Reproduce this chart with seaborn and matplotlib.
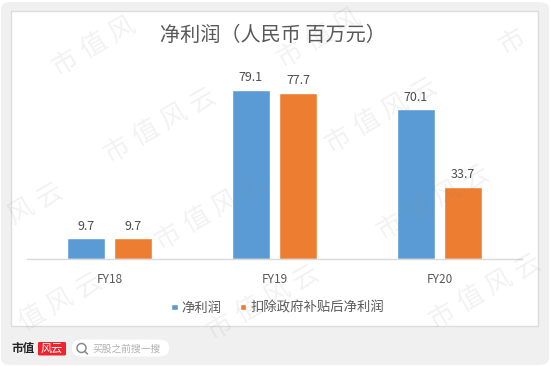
import matplotlib
matplotlib.use('Agg')
import matplotlib.pyplot as plt
from matplotlib.lines import Line2D
from matplotlib.patches import Ellipse, Rectangle, FancyBboxPatch
import pandas as pd
import seaborn as sns

years = ['FY18', 'FY19', 'FY20']
net_profit = [9.7, 79.1, 70.1]
net_profit_ex_subsidy = [9.7, 77.7, 33.7]
series_names = ['净利润', '扣除政府补贴后净利润']
colors = ['#5B9BD5', '#ED7D31']
title = '净利润（人民币 百万元）'
watermark = '市值风云'
search_hint = '买股之前搜一搜'

sns.set_theme(style='white')
plt.rcParams['font.family'] = ['Noto Sans CJK SC', 'DejaVu Sans']

W, H = 550, 366
TXT = '#595959'

df = pd.DataFrame({
    'year': years * 2,
    'series': [series_names[0]] * 3 + [series_names[1]] * 3,
    'value': net_profit + net_profit_ex_subsidy,
})

fig = plt.figure(figsize=(W / 100, H / 100), dpi=100, facecolor='white')


def fx(px):
    return px / W


def fy(py):
    return 1 - py / H


# page background and white chart panel
fig.patches.append(FancyBboxPatch((fx(1), fy(365)), fx(548), 363 / H, boxstyle='round,pad=0,rounding_size=0.018',
                                  transform=fig.transFigure, fc='#f0f0f0', ec='none', zorder=-5))
fig.patches.append(Rectangle((fx(11), fy(326)), fx(527), 315 / H, transform=fig.transFigure,
                             fc='white', ec='#dcdcdc', lw=1, zorder=-4))

ax = fig.add_axes([fx(27), fy(259), fx(495), 192.5 / H])
ax.patch.set_alpha(0)
sns.barplot(data=df, x='year', y='value', hue='series', hue_order=series_names, palette=colors,
            width=0.57, gap=0.21, saturation=1, ax=ax)
ax.set_ylim(0, 90)
ax.set_xlim(-0.5, 2.5)
ax.set_xlabel('')
ax.set_ylabel('')
ax.set_yticks([])
ax.tick_params(axis='x', length=0, pad=10, labelsize=8.5, labelcolor=TXT)
sns.despine(ax=ax, left=True)
ax.spines['bottom'].set_color('#d9d9d9')
ax.spines['bottom'].set_linewidth(1)

for cont in ax.containers:
    ax.bar_label(cont, fmt='%.1f', padding=4, fontsize=9, color='#4d4d4d')

leg = ax.legend(loc='center', bbox_to_anchor=(0.506, -0.253), ncol=2, frameon=False, fontsize=9.6,
                labelcolor=TXT, handlelength=0.5, handleheight=0.4, handletextpad=0.3, columnspacing=1.35)

fig.text(fx(273), fy(35), title, ha='center', va='center', fontsize=14.5, color=TXT)

# watermarks: position of the first character, the rest are stepped up and to the right
marks = [(65, 63), (117, 150), (168, 237), (-36, 245), (3, 335), (220, 327), (290, 55), (338, 140),
         (390, 227), (512, 42), (442, 316), (548, 135)]
for mx, my in marks:
    for i, ch in enumerate(watermark):
        cx, cy = mx + 28.5 * i, my - 16.5 * i
        if cx < 14 or cx > W - 14 or cy < 17 or cy > H - 14:
            continue
        fig.text(fx(cx), fy(cy), ch, ha='center', va='center', rotation=30, fontsize=19,
                 color='#808080', alpha=0.10, zorder=10)

# footer
fig.text(fx(23.5), fy(348), '市值', ha='center', va='center', fontsize=8.4, fontweight='bold', color='#222222')
fig.patches.append(FancyBboxPatch((fx(38), fy(355.5)), fx(28), 13.5 / H, boxstyle='round,pad=0,rounding_size=0.003',
                                  transform=fig.transFigure, fc='#f0242c', ec='none'))
fig.text(fx(52), fy(348.5), '风云', ha='center', va='center', fontsize=8, style='italic', color='white')
fig.patches.append(FancyBboxPatch((fx(72), fy(356.5)), fx(97), 17 / H, boxstyle='round,pad=0,rounding_size=0.02',
                                  transform=fig.transFigure, fc='white', ec='none'))
# magnifier glass
fig.patches.append(Ellipse((fx(81.5), fy(348)), 9 / W, 9 / H, transform=fig.transFigure,
                           fc='none', ec='#8a8a8a', lw=1.1))
fig.lines.append(Line2D([fx(84.8), fx(87.5)], [fy(351.3), fy(354)], transform=fig.transFigure,
                        color='#8a8a8a', lw=1.1))
fig.text(fx(92), fy(348.5), search_hint, ha='left', va='center', fontsize=7, color='#b0b0b0')

fig.savefig('out.png', dpi=100, facecolor='white')
